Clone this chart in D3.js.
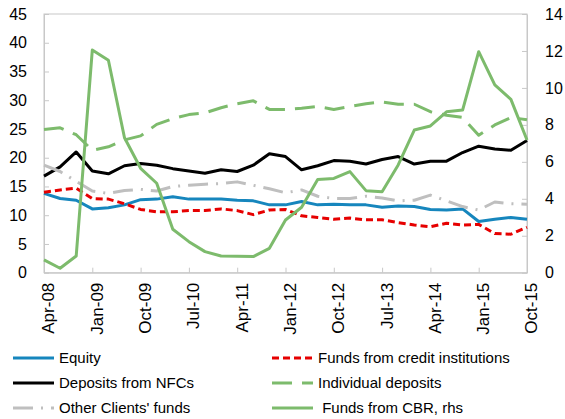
<!DOCTYPE html>
<html>
<head>
	<script src="https://cdn.jsdelivr.net/npm/d3@7"></script>
	<style>
		html, body { margin: 0; padding: 0; background: white; }
		text { font-family: "Liberation Sans", Arial, sans-serif; fill: #000; }
	</style>
</head>
<body>
	<div id="chart"></div>
	<script>
		var width = 565, height = 419;

		// quarterly, Apr-08 .. Oct-15
		var tickLabels = ["Apr-08", "Jan-09", "Oct-09", "Jul-10", "Apr-11", "Jan-12",
			"Oct-12", "Jul-13", "Apr-14", "Jan-15", "Oct-15"];

		var equity = [13.8, 12.9, 12.6, 11.1, 11.3, 11.8, 12.7, 12.8, 13.2, 12.8, 12.8,
			12.8, 12.6, 12.5, 11.8, 11.8, 12.4, 11.8, 11.9, 11.8, 11.8, 11.4, 11.6, 11.5,
			11.0, 10.9, 11.1, 8.9, 9.3, 9.6, 9.3];
		var creditInst = [14.0, 14.4, 14.7, 12.9, 12.8, 12.0, 11.0, 10.6, 10.6, 10.8, 10.8,
			11.1, 10.8, 10.1, 10.9, 11.0, 9.9, 9.6, 9.3, 9.5, 9.2, 9.2, 8.7, 8.3,
			8.0, 8.6, 8.3, 8.4, 6.8, 6.7, 7.9];
		var nfcDeposits = [16.8, 18.4, 21.0, 17.7, 17.2, 18.6, 19.0, 18.7, 18.1, 17.7, 17.3,
			17.9, 17.6, 18.7, 20.7, 20.2, 17.9, 18.6, 19.5, 19.4, 18.9, 19.7, 20.2, 18.9,
			19.4, 19.4, 20.9, 22.0, 21.5, 21.3, 23.0];
		var individual = [24.9, 25.2, 24.0, 21.3, 21.9, 23.1, 23.8, 25.8, 26.8, 27.5, 27.8,
			28.7, 29.4, 29.9, 28.4, 28.4, 28.6, 28.9, 28.4, 28.9, 29.4, 29.7, 29.3, 29.3,
			28.0, 27.4, 27.0, 23.9, 25.7, 27.0, 26.6];
		var otherClients = [18.7, 17.6, 15.9, 14.2, 13.8, 14.3, 14.5, 14.2, 15.0, 15.2, 15.4,
			15.5, 15.8, 15.2, 14.6, 13.9, 14.4, 13.3, 12.9, 12.9, 13.3, 13.0, 12.5, 12.6,
			13.5, 12.5, 11.5, 10.9, 12.3, 12.0, 11.9];
		// right hand scale
		var cbrFunds = [0.69, 0.24, 0.90, 12.05, 11.5, 7.3, 5.65, 4.84, 2.35, 1.68, 1.14,
			0.90, 0.89, 0.87, 1.32, 2.85, 3.54, 5.05, 5.1, 5.47, 4.44, 4.38, 5.83, 7.72,
			7.94, 8.71, 8.80, 11.96, 10.16, 9.38, 7.18];

		var series = [
			{name: "Equity", values: equity, color: "#1686bd", width: 3, dash: null, axis: "l"},
			{name: "Funds from credit institutions", values: creditInst, color: "#e60000", width: 3, dash: "7,4", axis: "l"},
			{name: "Deposits from NFCs", values: nfcDeposits, color: "#000000", width: 3, dash: null, axis: "l"},
			{name: "Individual deposits", values: individual, color: "#7dbb6c", width: 3, dash: "20,10", axis: "l"},
			{name: "Other Clients' funds", values: otherClients, color: "#bfbfbf", width: 3, dash: "20,8,2,8", axis: "l"},
			{name: " Funds from CBR, rhs", values: cbrFunds, color: "#7dbb6c", width: 3, dash: null, axis: "r"}
		];

		var plotL = 44, plotR = 527, plotT = 14, plotB = 272.7;

		var svg = d3.select("#chart").append("svg")
			.attr("width", width)
			.attr("height", height);

		var x = d3.scaleLinear().domain([0, 30]).range([plotL, plotR]);
		var yL = d3.scaleLinear().domain([0, 45]).range([plotB, plotT]);
		var yR = d3.scaleLinear().domain([0, 14]).range([plotB, plotT]);

		// plot frame
		svg.append("rect")
			.attr("x", plotL).attr("y", plotT)
			.attr("width", plotR - plotL).attr("height", plotB - plotT)
			.attr("fill", "none").attr("stroke", "#c8c8c8").attr("stroke-width", 1);

		var axL = svg.append("g")
			.attr("transform", "translate(" + plotL + ",0)")
			.call(d3.axisLeft(yL).tickValues(d3.range(0, 46, 5)).tickSizeInner(-5).tickSizeOuter(0).tickPadding(17));
		var axR = svg.append("g")
			.attr("transform", "translate(" + plotR + ",0)")
			.call(d3.axisRight(yR).tickValues(d3.range(0, 15, 2)).tickSizeInner(-5).tickSizeOuter(0).tickPadding(18));
		var axB = svg.append("g")
			.attr("transform", "translate(0," + plotB + ")")
			.call(d3.axisBottom(x).tickValues(d3.range(0, 31, 3)).tickSizeInner(-5).tickSizeOuter(0)
				.tickFormat(function(d, i) { return tickLabels[i]; }));

		[axL, axR, axB].forEach(function(a) {
			a.selectAll("path, line").attr("stroke", "#c8c8c8");
			a.selectAll("text").style("font-size", "16px").attr("fill", "#000");
		});

		axB.selectAll("text")
			.style("font-size", "17px")
			.attr("text-anchor", "end")
			.attr("transform", "translate(4,0) rotate(-90)")
			.attr("x", -10).attr("y", 0).attr("dy", "0.35em");

		// lines
		series.forEach(function(s) {
			var yy = s.axis === "r" ? yR : yL;
			var line = d3.line()
				.x(function(d, i) { return x(i); })
				.y(function(d) { return yy(d); });
			svg.append("path")
				.datum(s.values)
				.attr("d", line)
				.attr("fill", "none")
				.attr("stroke", s.color)
				.attr("stroke-width", s.width)
				.attr("stroke-linejoin", "round")
				.attr("stroke-dasharray", s.dash);
		});

		// legend, two columns
		var legend = svg.append("g");
		series.forEach(function(s, i) {
			var col = i % 2, row = Math.floor(i / 2);
			var lx = col === 0 ? 13 : 272;
			var ly = 358 + row * 25;
			legend.append("line")
				.attr("x1", lx).attr("x2", lx + 41)
				.attr("y1", ly).attr("y2", ly)
				.attr("stroke", s.color)
				.attr("stroke-width", s.width)
				.attr("stroke-dasharray", s.dash);
			legend.append("text")
				.attr("x", lx + 46).attr("y", ly)
				.attr("dy", "0.35em")
				.style("font-size", "15px")
				.style("white-space", "pre")
				.text(s.name);
		});
	</script>
</body>
</html>
